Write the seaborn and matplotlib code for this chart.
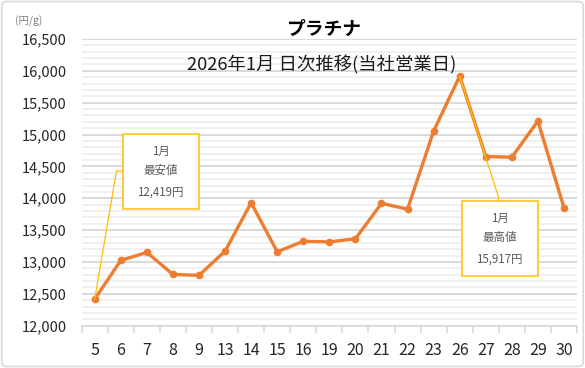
import numpy as np
import pandas as pd
import seaborn as sns
import matplotlib.pyplot as plt
from matplotlib.patches import Rectangle, FancyBboxPatch
from matplotlib.lines import Line2D
from matplotlib.ticker import MultipleLocator, StrMethodFormatter

# Data
days = ['5', '6', '7', '8', '9', '13', '14', '15', '16', '19',
        '20', '21', '22', '23', '26', '27', '28', '29', '30']
prices = [12419, 13025, 13150, 12805, 12790, 13170, 13930, 13160, 13325, 13315,
          13365, 13920, 13830, 15055, 15917, 14655, 14645, 15212, 13852]

title = 'プラチナ'
subtitle = '2026年1月 日次推移(当社営業日)'
unit_label = '(円/g)'

sns.set_theme(style='white')
plt.rcParams['font.family'] = ['Noto Sans CJK JP', 'DejaVu Sans']

W, H = 585, 368
fig = plt.figure(figsize=(W / 100, H / 100), dpi=100)

def fx(px):
    return px / W

def fy(py):
    return 1 - py / H

ax = fig.add_axes([fx(81.7), fy(325.7), fx(577 - 81.7), (325.7 - 39) / H])

df = pd.DataFrame({'day': days, 'price': prices})
sns.lineplot(data=df, x='day', y='price', sort=False, ax=ax,
             color='#ED7D31', linewidth=2.4, marker='o', markersize=5.5,
             markeredgewidth=0, zorder=3)

n = len(days)
ax.set_xlim(-0.5, n - 0.5)
ax.set_ylim(12000, 16500)
ax.yaxis.set_major_locator(MultipleLocator(500))
ax.yaxis.set_minor_locator(MultipleLocator(100))
ax.yaxis.set_major_formatter(StrMethodFormatter('{x:,.0f}'))
ax.set_xticks(range(n))
ax.set_xticklabels(days)
ax.set_xticks(np.arange(-0.5, n, 1), minor=True)

ax.grid(which='major', axis='y', color='#D9D9D9', linewidth=1.4)
ax.grid(which='minor', axis='y', color='#ECECEC', linewidth=1.1)
ax.grid(False, axis='x', which='both')
ax.set_axisbelow(True)

for s in ['left', 'right', 'top']:
    ax.spines[s].set_visible(False)
ax.spines['bottom'].set_color('#D9D9D9')
ax.spines['bottom'].set_linewidth(1.2)

ax.tick_params(axis='y', which='both', length=0, pad=11, labelsize=10.5, labelcolor='#262626')
ax.tick_params(axis='x', which='major', length=0, pad=12, labelsize=11.5, labelcolor='#262626')
ax.tick_params(axis='x', which='minor', length=5, width=1.2, color='#D9D9D9', bottom=True)
ax.set_xlabel('')
ax.set_ylabel('')

# Titles
fig.text(fx(324), fy(29), title, ha='center', va='center', fontsize=13.5,
         fontweight='bold', color='black')
fig.text(fx(322), fy(65), subtitle, ha='center', va='center', fontsize=13.2,
         color='#1a1a1a')
fig.text(fx(29), fy(21), unit_label, ha='center', va='center', fontsize=7.5,
         color='#7f7f7f')

# Callouts for min / max
gold = '#FFC000'
fig.canvas.draw()

def data_px(i, v):
    dx, dy = ax.transData.transform((i, v))
    return dx, H - dy

i_min = int(np.argmin(prices))
i_max = int(np.argmax(prices))

# min box
bx0, by0, bx1, by1 = 123, 133.5, 198.5, 209
fig.add_artist(Rectangle((fx(bx0), fy(by1)), fx(bx1 - bx0), (by1 - by0) / H,
                         transform=fig.transFigure, fill=True, facecolor='white',
                         edgecolor=gold, linewidth=1.1, zorder=4))
px, py = data_px(i_min, prices[i_min])
fig.add_artist(Line2D([fx(px), fx(116.5), fx(bx0)], [fy(py), fy(171), fy(171)],
                      transform=fig.transFigure, color=gold, linewidth=0.9, zorder=4))
cx = (bx0 + bx1) / 2
for txt, yy in [('1月', 151.5), ('最安値', 170.5), (f'{prices[i_min]:,}円', 192.5)]:
    fig.text(fx(cx), fy(yy), txt, ha='center', va='center', fontsize=8.3,
             color='#595959', zorder=5)

# max box
bx0, by0, bx1, by1 = 461.5, 200.7, 537.5, 276
fig.add_artist(Rectangle((fx(bx0), fy(by1)), fx(bx1 - bx0), (by1 - by0) / H,
                         transform=fig.transFigure, fill=True, facecolor='white',
                         edgecolor=gold, linewidth=1.1, zorder=4))
px, py = data_px(i_max, prices[i_max])
fig.add_artist(Line2D([fx(px), fx(498.5), fx(498.5)], [fy(py), fy(197), fy(by0)],
                      transform=fig.transFigure, color=gold, linewidth=0.9, zorder=4))
cx = (bx0 + bx1) / 2
for txt, yy in [('1月', 218.5), ('最高値', 238), (f'{prices[i_max]:,}円', 259.5)]:
    fig.text(fx(cx), fy(yy), txt, ha='center', va='center', fontsize=8.3,
             color='#595959', zorder=5)

# outer chart border
fig.add_artist(FancyBboxPatch((0.003, 0.004), 0.994, 0.992,
                              boxstyle='round,pad=0,rounding_size=0.01',
                              transform=fig.transFigure, fill=False,
                              edgecolor='#D9D9D9', linewidth=1.2))

fig.savefig('out.png', dpi=100)
